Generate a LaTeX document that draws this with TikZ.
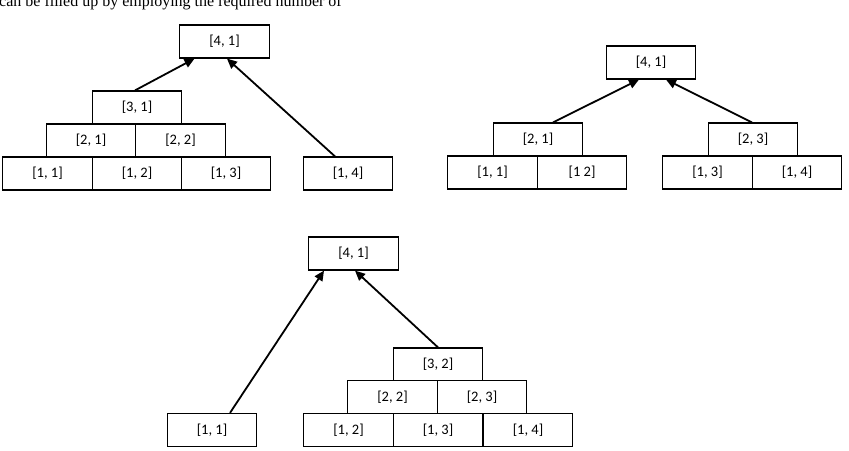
\documentclass[tikz,border=0pt]{standalone}
\usepackage{fontspec}
\setmainfont{Liberation Serif}
\newfontfamily\boxfont{Carlito}
\usetikzlibrary{arrows.meta}
\tikzset{
  cell/.style={draw=black, line width=1.2pt, fill=white, minimum width=89.5pt, minimum height=33pt, inner sep=0pt, font=\boxfont\fontsize{14.5}{16}\selectfont},
  link/.style={line width=1.8pt, -{Triangle[length=10pt,width=9pt]}}
}
\begin{document}
\begin{tikzpicture}[x=1pt,y=-1pt]
\useasboundingbox (0,0) rectangle (849,450);
\clip (0,0) rectangle (849,450);
\fill[white] (0,0) rectangle (849,450);
\node[anchor=base west, inner sep=0pt, font=\fontsize{16}{18}\selectfont] (caption) at (-1,6.5) {can be filled up by employing the required number of};
% Panel 1
\node[cell] (pa41) at (224.5,41.5) {[4, 1]};
\node[cell] (pa31) at (137,107.5) {[3, 1]};
\node[cell] (pa21) at (91,140.5) {[2, 1]};
\node[cell] (pa22) at (180.5,140.5) {[2, 2]};
\node[cell] (pa11) at (47.5,173.5) {[1, 1]};
\node[cell] (pa12) at (137,173.5) {[1, 2]};
\node[cell] (pa13) at (226,173.5) {[1, 3]};
\node[cell] (pa14) at (348,173.5) {[1, 4]};
\draw[link] ([xshift=-2pt]pa31.north) -- ([xshift=-30pt]pa41.south);
\draw[link] ([xshift=-13pt]pa14.north) -- ([xshift=2.5pt]pa41.south);
% Panel 2
\node[cell] (pb41) at (651,62.5) {[4, 1]};
\node[cell] (pb21) at (538,139.5) {[2, 1]};
\node[cell] (pb23) at (753,139.5) {[2, 3]};
\node[cell] (pb11) at (492.5,172.5) {[1, 1]};
\node[cell] (pb12) at (582,172.5) {[1 2]};
\node[cell] (pb13) at (707.5,172.5) {[1, 3]};
\node[cell] (pb14) at (797,172.5) {[1, 4]};
\draw[link] ([xshift=15pt]pb21.north) -- ([xshift=-12pt]pb41.south);
\draw[link] ([xshift=-1pt]pb23.north) -- ([xshift=15pt]pb41.south);
% Panel 3
\node[cell] (pc41) at (353.5,253.5) {[4, 1]};
\node[cell] (pc32) at (438,364.5) {[3, 2]};
\node[cell] (pc22) at (392.5,397) {[2, 2]};
\node[cell] (pc23) at (482,397) {[2, 3]};
\node[cell] (pc11) at (212,430) {[1, 1]};
\node[cell] (pc12) at (348.5,430) {[1, 2]};
\node[cell] (pc13) at (438,430) {[1, 3]};
\node[cell] (pc14) at (528,430) {[1, 4]};
\draw[link] ([xshift=18pt]pc11.north) -- ([xshift=-29.5pt]pc41.south);
\draw[link] (pc32.north) -- ([xshift=1.5pt]pc41.south);
\end{tikzpicture}
\end{document}
